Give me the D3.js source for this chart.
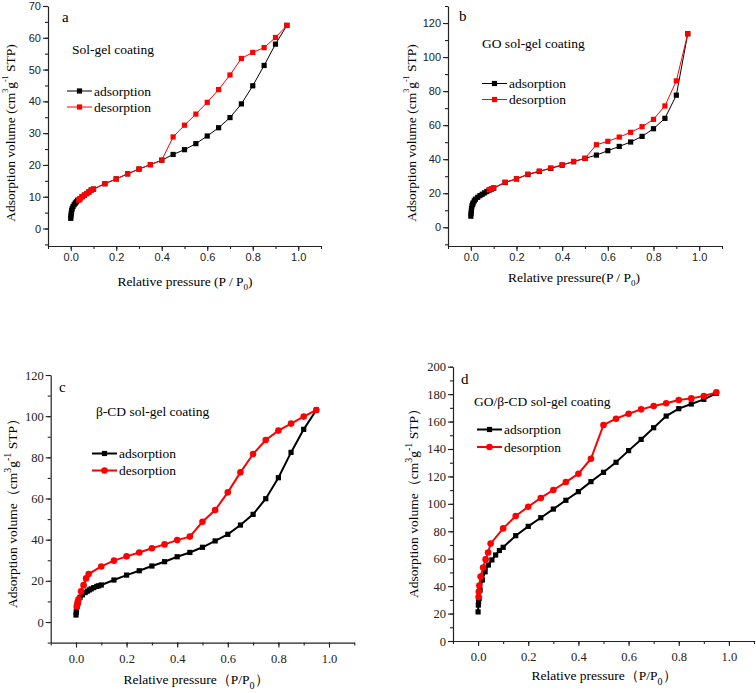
<!DOCTYPE html>
<html>
<head>
<meta charset="utf-8">
<script src="https://d3js.org/d3.v7.min.js"></script>
<style>
  body { margin: 0; background: #fff; }
  svg { display: block; }
</style>
</head>
<body>
<div id="chart"></div>
<script>
// isotherm data (P/P0, volume cm3/g STP)
let aAdsP = [0, 0.001, 0.002, 0.004, 0.006, 0.01, 0.015, 0.02, 0.025, 0.03, 0.04, 0.05, 0.06, 0.07, 0.08, 0.09, 0.1, 0.15, 0.2, 0.25, 0.3, 0.35, 0.4, 0.45, 0.5, 0.55, 0.6, 0.65, 0.7, 0.75, 0.8, 0.85, 0.9, 0.95];
let aAdsV = [3.2, 4.0, 4.8, 5.6, 6.2, 6.9, 7.5, 8.0, 8.4, 8.9, 9.3, 10.0, 10.5, 11.0, 11.5, 12.1, 12.4, 14.1, 15.6, 17.2, 18.7, 20.1, 21.5, 23.3, 24.8, 26.7, 29.1, 31.7, 34.9, 39.2, 44.9, 51.3, 58.0, 63.9];
let aDesP = [0.95, 0.9, 0.85, 0.8, 0.75, 0.7, 0.65, 0.6, 0.55, 0.5, 0.45, 0.4, 0.35, 0.3, 0.25, 0.2, 0.15, 0.1, 0.09, 0.08, 0.07, 0.06, 0.05, 0.04, 0.035];
let aDesV = [63.9, 60.1, 56.9, 55.4, 53.5, 48.3, 43.7, 39.7, 36.0, 32.5, 28.8, 21.5, 20.1, 18.7, 17.2, 15.6, 14.1, 12.4, 12.1, 11.5, 11.0, 10.5, 10.0, 9.3, 8.9];

let bAdsP = [0, 0.001, 0.002, 0.003, 0.005, 0.008, 0.01, 0.015, 0.02, 0.03, 0.04, 0.05, 0.06, 0.07, 0.08, 0.09, 0.1, 0.15, 0.2, 0.25, 0.3, 0.35, 0.4, 0.45, 0.5, 0.55, 0.6, 0.65, 0.7, 0.75, 0.8, 0.85, 0.9, 0.95];
let bAdsV = [6.5, 8.0, 9.5, 11.0, 12.5, 13.5, 14.3, 15.5, 16.5, 17.6, 18.6, 19.4, 20.2, 21.0, 21.8, 22.4, 23.0, 26.3, 28.4, 31.0, 32.8, 34.6, 36.5, 38.5, 40.5, 42.4, 45.0, 47.5, 50.1, 53.4, 57.9, 64.0, 77.6, 113.7];
let bDesP = [0.95, 0.9, 0.85, 0.8, 0.75, 0.7, 0.65, 0.6, 0.55, 0.5, 0.45, 0.4, 0.35, 0.3, 0.25, 0.2, 0.15, 0.1, 0.09, 0.08];
let bDesV = [113.7, 86.0, 71.3, 63.4, 59.1, 55.8, 53.0, 50.5, 48.5, 40.5, 38.7, 36.7, 34.8, 33.0, 31.2, 28.5, 26.5, 23.2, 22.6, 22.0];

let cAdsP = [0, 0.001, 0.002, 0.004, 0.007, 0.01, 0.016, 0.025, 0.036, 0.045, 0.053, 0.06, 0.07, 0.082, 0.09, 0.1, 0.15, 0.2, 0.25, 0.3, 0.35, 0.4, 0.45, 0.5, 0.55, 0.6, 0.65, 0.7, 0.75, 0.8, 0.85, 0.9, 0.95];
let cAdsV = [3.4, 4.8, 6.0, 7.5, 8.8, 9.8, 12.0, 13.2, 14.3, 15.0, 15.6, 16.1, 16.7, 17.3, 17.6, 18.0, 20.4, 22.8, 24.9, 27.2, 29.3, 31.7, 33.8, 36.3, 39.4, 42.6, 47.1, 52.3, 59.9, 70.1, 82.4, 93.6, 103.0];
let cDesP = [0.95, 0.9, 0.85, 0.8, 0.75, 0.7, 0.65, 0.6, 0.55, 0.5, 0.45, 0.4, 0.35, 0.3, 0.25, 0.2, 0.15, 0.1, 0.05, 0.04, 0.03, 0.02, 0.01, 0.007, 0.005, 0.003];
let cDesV = [103.0, 99.8, 96.4, 93.0, 88.4, 81.6, 72.7, 63.0, 54.4, 48.7, 41.5, 39.8, 37.7, 35.8, 33.8, 31.9, 29.8, 27.0, 23.3, 21.2, 17.9, 14.9, 11.0, 9.8, 8.6, 7.5];

let dAdsP = [0, 0.001, 0.002, 0.004, 0.008, 0.017, 0.028, 0.041, 0.055, 0.07, 0.085, 0.1, 0.15, 0.2, 0.25, 0.3, 0.35, 0.4, 0.45, 0.5, 0.55, 0.6, 0.65, 0.7, 0.75, 0.8, 0.85, 0.9, 0.95];
let dAdsV = [21.2, 26.2, 29.0, 31.1, 37.2, 44.5, 50.5, 55.4, 59.1, 62.7, 66.0, 68.3, 76.8, 83.6, 89.9, 96.2, 102.6, 108.9, 116.2, 123.0, 130.3, 138.8, 147.0, 155.5, 164.0, 169.4, 172.8, 176.2, 180.6];
let dDesP = [0.95, 0.9, 0.85, 0.8, 0.75, 0.7, 0.65, 0.6, 0.55, 0.5, 0.45, 0.4, 0.35, 0.3, 0.25, 0.2, 0.15, 0.1, 0.05, 0.04, 0.03, 0.02, 0.01, 0.005, 0.003, 0.002];
let dDesV = [181.3, 178.6, 176.9, 175.7, 173.3, 171.3, 168.9, 165.7, 162.1, 157.5, 132.9, 122.0, 115.9, 110.1, 104.3, 97.9, 91.1, 82.1, 71.0, 64.5, 59.5, 53.5, 47.0, 40.5, 36.0, 32.0];

let panelLetters = ['a', 'b', 'c', 'd'];
let panelNames = ['Sol-gel coating', 'GO sol-gel coating', 'β-CD sol-gel coating', 'GO/β-CD sol-gel coating'];
let seriesNames = ['adsorption', 'desorption'];
let xTicks = [0, 0.2, 0.4, 0.6, 0.8, 1.0];

let serif = "'Liberation Serif','Times New Roman',serif";
let sans = "'Liberation Sans',Arial,sans-serif";

let svg = d3.select('#chart').append('svg')
    .attr('width', 756)
    .attr('height', 693);

// layout of each panel (pixel boxes), kept apart from the data
let panels = [
    {letter: panelLetters[0], name: panelNames[0], ads: [aAdsP, aAdsV], des: [aDesP, aDesV],
     xr: [48, 321], yr: [246, 6], yd: [-5.5, 70], yMajor: d3.range(0, 71, 10), yMinor: d3.range(-5, 71, 5),
     tickFont: sans, tickSize: 11, lw: 1, desMarker: 'square', thin: true,
     letterPos: [62, 22], namePos: [72, 54], legX: 67, legY: [91, 107],
     yTitle: [10, 133], xTitle: [185, 286], xTitleText: 'Relative pressure (P / P', wide: false},
    {letter: panelLetters[1], name: panelNames[1], ads: [bAdsP, bAdsV], des: [bDesP, bDesV],
     xr: [448, 722], yr: [246, 6], yd: [-11, 130], yMajor: d3.range(0, 121, 20), yMinor: d3.range(-10, 131, 10),
     tickFont: sans, tickSize: 11, lw: 1, desMarker: 'square', thin: true,
     letterPos: [459, 21], namePos: [482, 48], legX: 482, legY: [83.5, 99.5],
     yTitle: [411, 133], xTitle: [574, 282], xTitleText: 'Relative pressure(P / P', wide: false},
    {letter: panelLetters[2], name: panelNames[2], ads: [cAdsP, cAdsV], des: [cDesP, cDesV],
     xr: [50.7, 354.3], yr: [642.6, 375], yd: [-10, 120], yMajor: d3.range(0, 121, 20), yMinor: d3.range(-10, 121, 10),
     tickFont: serif, tickSize: 12.5, lw: 2, desMarker: 'circle', thin: false,
     letterPos: [59, 392], namePos: [96, 416], legX: 92, legY: [453.5, 470.5],
     yTitle: [12, 510], xTitle: [196, 684], xTitleText: 'Relative pressure（P/P', wide: true},
    {letter: panelLetters[3], name: panelNames[3], ads: [dAdsP, dAdsV], des: [dDesP, dDesV],
     xr: [453, 754], yr: [641, 366.7], yd: [0, 200], yMajor: d3.range(0, 201, 20), yMinor: d3.range(0, 201, 10),
     tickFont: serif, tickSize: 12.5, lw: 2, desMarker: 'circle', thin: false,
     letterPos: [461, 384], namePos: [474, 406], legX: 477, legY: [429.5, 447],
     yTitle: [413, 500], xTitle: [604, 680], xTitleText: 'Relative pressure（P/P', wide: true}
];

function drawMarker(g, type, x, y, color) {
    if (type === 'circle') {
        g.append('circle')
            .attr('cx', x).attr('cy', y).attr('r', 3.3)
            .attr('fill', color);
    } else {
        g.append('rect')
            .attr('x', x - 2.6).attr('y', y - 2.6)
            .attr('width', 5.2).attr('height', 5.2)
            .attr('fill', color);
    }
}

function drawPanel(p) {
    let g = svg.append('g');

    let x = d3.scaleLinear().domain([-0.1, 1.1]).range(p.xr);
    let y = d3.scaleLinear().domain(p.yd).range(p.yr);

    // minor ticks first, then major axes with labels
    g.append('g')
        .attr('transform', `translate(0, ${p.yr[0]})`)
        .call(d3.axisBottom(x).tickValues(d3.range(-0.1, 1.11, 0.1)).tickSize(3).tickFormat(''))
        .call(s => s.select('.domain').remove());
    g.append('g')
        .attr('transform', `translate(${p.xr[0]}, 0)`)
        .call(d3.axisLeft(y).tickValues(p.yMinor).tickSize(3).tickFormat(''))
        .call(s => s.select('.domain').remove());

    let xAxis = g.append('g')
        .attr('transform', `translate(0, ${p.yr[0]})`)
        .call(d3.axisBottom(x).tickValues(xTicks).tickSize(5).tickSizeOuter(0)
            .tickPadding(p.thin ? 2 : 6.5).tickFormat(d3.format('.1f')));
    let yAxis = g.append('g')
        .attr('transform', `translate(${p.xr[0]}, 0)`)
        .call(d3.axisLeft(y).tickValues(p.yMajor).tickSize(5).tickSizeOuter(0)
            .tickPadding(2).tickFormat(d3.format('d')));

    [xAxis, yAxis].forEach(a => {
        a.selectAll('text')
            .attr('font-family', p.tickFont)
            .attr('font-size', p.tickSize)
            .attr('fill', '#222');
        a.selectAll('line, path').attr('stroke', '#222').attr('stroke-width', 1.2);
    });
    g.selectAll('.tick line').attr('stroke', '#222').attr('stroke-width', 1.1);

    let line = d3.line().x(d => x(d[0])).y(d => y(d[1]));
    let series = [
        {pts: d3.zip(p.ads[0], p.ads[1]), color: '#000', marker: 'square'},
        {pts: d3.zip(p.des[0], p.des[1]), color: '#ff0000', marker: p.desMarker}
    ];

    series.forEach(s => {
        g.append('path')
            .datum(s.pts)
            .attr('fill', 'none')
            .attr('stroke', s.color)
            .attr('stroke-width', p.lw)
            .attr('d', line);
        let mg = g.append('g');
        s.pts.forEach(d => drawMarker(mg, s.marker, x(d[0]), y(d[1]), s.color));
    });

    // panel letter and sample name
    g.append('text')
        .attr('x', p.letterPos[0]).attr('y', p.letterPos[1])
        .attr('font-family', serif).attr('font-size', 15)
        .text(p.letter);
    g.append('text')
        .attr('x', p.namePos[0]).attr('y', p.namePos[1])
        .attr('font-family', serif).attr('font-size', 13.5)
        .text(p.name);

    // legend
    series.forEach((s, i) => {
        let ly = p.legY[i];
        g.append('line')
            .attr('x1', p.legX).attr('x2', p.legX + 25)
            .attr('y1', ly).attr('y2', ly)
            .attr('stroke', s.color).attr('stroke-width', p.lw);
        drawMarker(g, s.marker, p.legX + 12.5, ly, s.color);
        g.append('text')
            .attr('x', p.legX + 27).attr('y', ly + 4.5)
            .attr('font-family', serif).attr('font-size', 13.5)
            .text(seriesNames[i]);
    });

    // y axis title
    let yt = g.append('text')
        .attr('transform', `translate(${p.yTitle[0]}, ${p.yTitle[1]}) rotate(-90)`)
        .attr('text-anchor', 'middle')
        .attr('dominant-baseline', 'central')
        .attr('font-family', serif).attr('font-size', 13.5);
    let supSize = p.wide ? 10 : 8;
    yt.append('tspan').text(p.wide ? 'Adsorption volume（cm' : 'Adsorption volume (cm');
    yt.append('tspan').attr('dy', -5).attr('font-size', supSize).text('3');
    yt.append('tspan').attr('dy', 5).text('g');
    yt.append('tspan').attr('dy', -5).attr('font-size', supSize).text('-1');
    yt.append('tspan').attr('dy', 5).text(p.wide ? ' STP）' : ' STP)');

    // x axis title
    let xt = g.append('text')
        .attr('x', p.xTitle[0]).attr('y', p.xTitle[1])
        .attr('text-anchor', 'middle')
        .attr('font-family', serif).attr('font-size', 13.5);
    xt.append('tspan').text(p.xTitleText);
    xt.append('tspan').attr('dy', p.wide ? 5 : 4).attr('font-size', p.wide ? 10 : 9).text('0');
    xt.append('tspan').attr('dy', p.wide ? -5 : -4).text(p.wide ? '）' : ')');
}

panels.forEach(drawPanel);
</script>
</body>
</html>
